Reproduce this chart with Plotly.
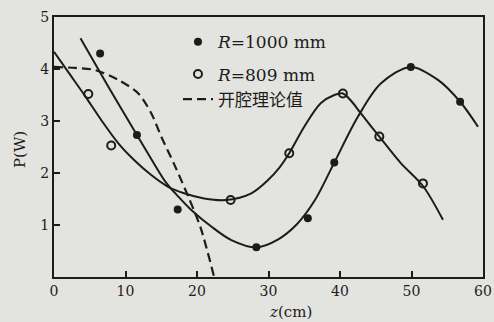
import plotly.graph_objects as go

# measured points
z_1000_pts = [6.45, 11.6, 17.3, 28.3, 35.5, 39.2, 49.9, 56.8]
p_1000_pts = [4.30, 2.73, 1.30, 0.57, 1.13, 2.20, 4.04, 3.37]
z_809_pts = [4.8, 8.0, 24.7, 32.9, 40.4, 45.5, 51.6]
p_809_pts = [3.52, 2.53, 1.48, 2.38, 3.53, 2.70, 1.80]

# hand-drawn fitted curves
z_1000_curve = [3.7, 7.6, 11.6, 13.6, 15.7, 17.5, 19.2, 22.0, 24.8, 28.3, 31.3, 34.0,
                36.5, 39.2, 42.5, 45.7, 49.9, 53.7, 56.8, 59.3]
p_1000_curve = [4.59, 3.66, 2.73, 2.27, 1.81, 1.53, 1.29, 0.97, 0.71, 0.57, 0.72, 1.02,
                1.48, 2.20, 3.08, 3.72, 4.04, 3.79, 3.37, 2.89]
z_809_curve = [0, 2.2, 4.4, 6.6, 9.0, 11.2, 13.6, 15.9, 18.2, 21.0, 24.0, 27.6, 29.9,
               31.5, 32.9, 35.0, 37.3, 39.2, 40.4, 41.6, 42.9, 45.5, 48.5, 51.6, 54.4]
p_809_curve = [4.33, 3.90, 3.47, 3.02, 2.57, 2.25, 1.96, 1.74, 1.61, 1.51, 1.48, 1.61, 1.86,
               2.10, 2.38, 2.89, 3.34, 3.50, 3.53, 3.38, 3.15, 2.70, 2.19, 1.75, 1.10]
z_theory = [0, 3.0, 5.75, 9.0, 11.8, 13.6, 15.0, 16.8, 18.8, 20.5, 22.4]
p_theory = [4.04, 4.02, 3.98, 3.79, 3.53, 3.15, 2.70, 2.17, 1.54, 0.95, 0.0]

x_ticks = [0, 10, 20, 30, 40, 50, 60]
y_ticks = [1, 2, 3, 4, 5]

INK = "#1c1c1c"
BG = "#e3e3df"
SERIF = "DejaVu Serif, Liberation Serif, serif"

W, H = 494, 322
ML, MR, MT, MB = 54, 11, 17, 45
pw, ph = W - ML - MR, H - MT - MB

fig = go.Figure()
fig.add_trace(go.Scatter(x=z_1000_curve, y=p_1000_curve, mode="lines",
                         line=dict(color=INK, width=2, shape="spline", smoothing=0.9),
                         showlegend=False, hoverinfo="skip"))
fig.add_trace(go.Scatter(x=z_809_curve, y=p_809_curve, mode="lines",
                         line=dict(color=INK, width=2, shape="spline", smoothing=0.9),
                         showlegend=False, hoverinfo="skip"))
fig.add_trace(go.Scatter(x=z_1000_pts, y=p_1000_pts, mode="markers",
                         marker=dict(symbol="circle", size=8, color=INK),
                         name="<i>R</i>=1000 mm", legendgroup="a"))
fig.add_trace(go.Scatter(x=z_809_pts, y=p_809_pts, mode="markers",
                         marker=dict(symbol="circle-open", size=8, color=INK, line=dict(width=2)),
                         name="<i>R</i>=809 mm", legendgroup="b"))
fig.add_trace(go.Scatter(x=z_theory, y=p_theory, mode="lines",
                         line=dict(color=INK, width=2.2, dash="9px,5px", shape="spline", smoothing=0.8),
                         name="开腔理论值", legendgroup="b"))

fig.update_layout(
    width=W, height=H,
    margin=dict(l=ML, r=MR, t=MT, b=MB),
    paper_bgcolor=BG, plot_bgcolor=BG,
    font=dict(family=SERIF, size=14, color=INK),
    legend=dict(x=0.289, y=0.972, xanchor="left", yanchor="top",
                bgcolor="rgba(0,0,0,0)", font=dict(size=17, family=SERIF + ", Noto Sans CJK SC"),
                tracegroupgap=7, itemwidth=30),
    xaxis=dict(range=[0, 60], tickvals=x_ticks, ticks="inside", ticklen=6, tickwidth=2,
               tickcolor=INK, showline=True, linecolor=INK, linewidth=2, mirror=True,
               showgrid=False, zeroline=False, tickfont=dict(size=14, family=SERIF),
               automargin=False),
    yaxis=dict(range=[0, 5], tickvals=y_ticks, ticks="inside", ticklen=6, tickwidth=2,
               tickcolor=INK, showline=True, linecolor=INK, linewidth=2, mirror=True,
               showgrid=False, zeroline=False, tickfont=dict(size=14, family=SERIF),
               automargin=False),
    annotations=[
        dict(text="<i>z</i>(cm)", x=(290 - ML) / pw, y=(H - MB - 312) / ph,
             xanchor="center", yanchor="middle",
             xref="paper", yref="paper", showarrow=False, font=dict(size=15, family=SERIF)),
        dict(text="P(W)", x=(20 - ML) / pw, y=(H - MB - 150) / ph, textangle=-90,
             xanchor="center", yanchor="middle",
             xref="paper", yref="paper", showarrow=False, font=dict(size=15, family=SERIF)),
    ],
)

fig.write_html("out.html", config={"displayModeBar": False},
               post_script="document.body.style.margin='0px';")
